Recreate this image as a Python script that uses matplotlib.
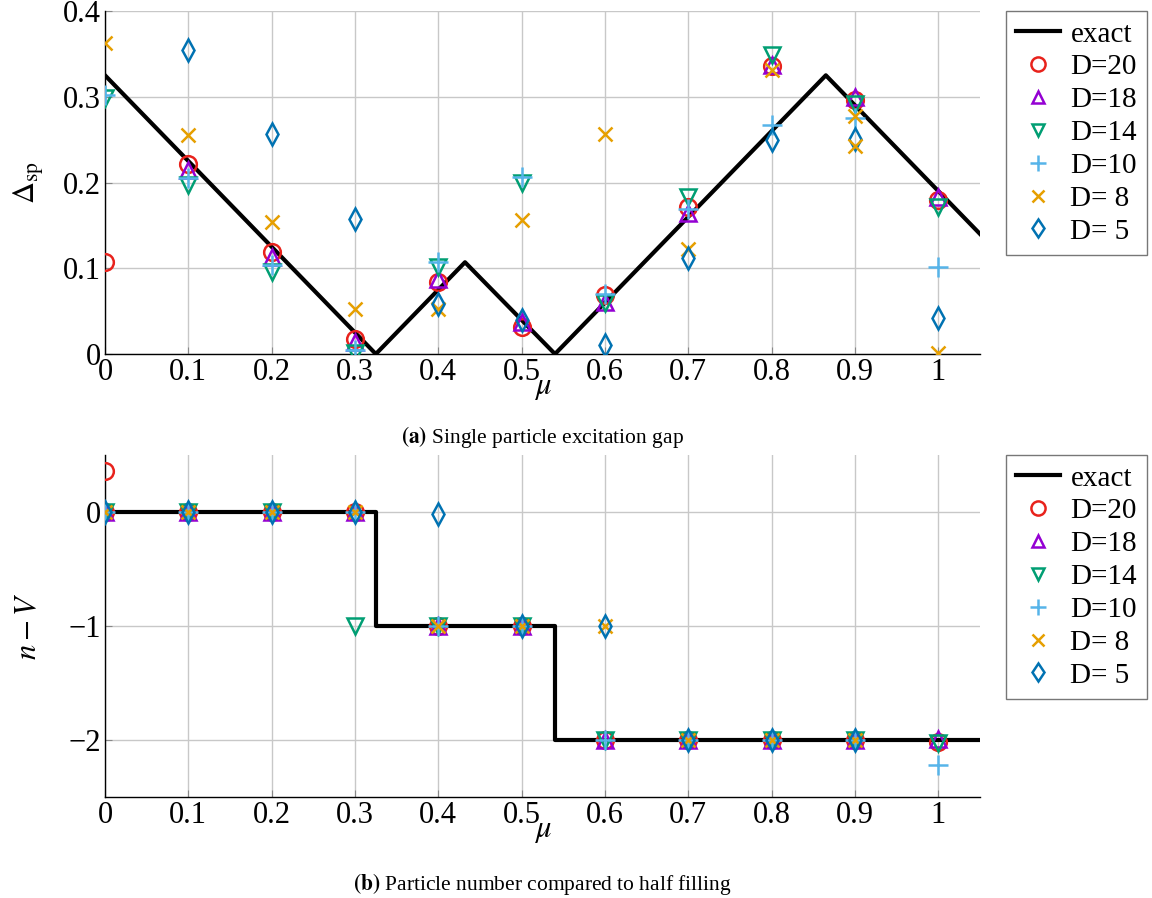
import numpy as np
import matplotlib
matplotlib.use("Agg")
import matplotlib.pyplot as plt

plt.rcParams['font.family'] = ['Liberation Serif', 'DejaVu Serif']
plt.rcParams['mathtext.fontset'] = 'stix'
plt.rcParams['axes.unicode_minus'] = True

mu = [0.0, 0.1, 0.2, 0.3, 0.4, 0.5, 0.6, 0.7, 0.8, 0.9, 1.0]
nan = np.nan

# exact curves
exact_gap_x = [0.0, 0.325, 0.432, 0.54, 0.865, 1.05]
exact_gap_y = [0.325, 0.0, 0.107, 0.0, 0.325, 0.14]
exact_n_x = [0.0, 0.325, 0.325, 0.54, 0.54, 1.05]
exact_n_y = [0.0, 0.0, -1.0, -1.0, -2.0, -2.0]

labels = ['D=20', 'D=18', 'D=14', 'D=10', 'D= 8', 'D= 5']
colors = ['#e8221c', '#9400d3', '#009e73', '#56b4e9', '#e69f00', '#0072b2']
markers = ['o', '^', 'v', '+', 'x', 'd']

# (a) single particle gap
gap_D20 = [0.107, 0.221, 0.119, 0.018, 0.084, 0.032, 0.069, 0.171, 0.336, 0.296, 0.180]
gap_D18 = [nan, 0.215, 0.113, 0.014, 0.088, 0.037, 0.061, 0.164, 0.337, 0.300, 0.183]
gap_D14 = [0.298, 0.197, 0.096, 0.001, 0.101, 0.200, 0.059, 0.183, 0.349, 0.292, 0.172]
gap_D10 = [0.302, 0.205, 0.104, 0.005, 0.107, 0.206, 0.070, 0.169, 0.267, 0.275, 0.102]
gap_D8 = [0.363, 0.255, 0.154, 0.053, 0.053, 0.156, 0.256, 0.122, 0.331, 0.277, 0.001]
gap_D5 = [nan, 0.355, 0.256, 0.157, 0.058, 0.040, 0.011, 0.112, 0.250, 0.251, 0.042]
gap_D8_extra_x = [0.9]
gap_D8_extra_y = [0.243]

# (b) particle number relative to half filling
n_D20 = [0.0, 0.0, 0.0, 0.0, -1.0, -1.0, -2.0, -2.0, -2.0, -2.0, -2.02]
n_D18 = [0.0, 0.0, 0.0, 0.0, -1.0, -1.0, -2.0, -2.0, -2.0, -2.0, -1.99]
n_D14 = [0.0, 0.0, 0.0, -1.0, -1.0, -1.0, -2.0, -2.0, -2.0, -2.0, -2.03]
n_D10 = [0.0, 0.0, 0.0, 0.0, -1.0, -1.0, -2.0, -2.0, -2.0, -2.0, -2.22]
n_D8 = [0.0, 0.0, 0.0, 0.0, -1.0, -1.0, -1.0, -2.0, -2.0, -2.0, nan]
n_D5 = [0.0, 0.0, 0.0, 0.0, -0.02, -1.0, -1.0, -2.0, -2.0, -2.0, nan]
n_D20_extra_x = [0.0]
n_D20_extra_y = [0.36]

gap_series = [gap_D20, gap_D18, gap_D14, gap_D10, gap_D8, gap_D5]
n_series = [n_D20, n_D18, n_D14, n_D10, n_D8, n_D5]

W, H = 1152, 898
fig = plt.figure(figsize=(W / 100, H / 100), dpi=100)

def px_axes(l, t, r, b):
    return fig.add_axes([l / W, 1 - b / H, (r - l) / W, (b - t) / H])

ax1 = px_axes(105, 11, 980, 354)
ax2 = px_axes(105, 455, 980, 797)

ms = {'o': 12, '^': 11, 'v': 11, '+': 14, 'x': 10, 'd': 11}

def style(ax):
    ax.grid(True, color='#c8c8c8', linewidth=1.0)
    ax.set_axisbelow(True)
    for s in ['top', 'right']:
        ax.spines[s].set_visible(False)
    for s in ['left', 'bottom']:
        ax.spines[s].set_color('black')
        ax.spines[s].set_linewidth(1.0)
    ax.tick_params(direction='in', length=5, color='#888888', labelsize=22, pad=3)
    ax.set_xlim(0, 1.05)
    ax.set_xticks([0, 0.1, 0.2, 0.3, 0.4, 0.5, 0.6, 0.7, 0.8, 0.9, 1.0])
    ax.set_xticklabels(['0', '0.1', '0.2', '0.3', '0.4', '0.5', '0.6', '0.7', '0.8', '0.9', '1'])
    ax.set_xlabel(r'$\mu$', fontsize=22, labelpad=-10)

def draw(ax, ex_x, ex_y, series, extras):
    ax.plot(ex_x, ex_y, color='black', linewidth=3, label='exact', zorder=2)
    for ys, lab, c, m in zip(series, labels, colors, markers):
        ax.plot(mu, ys, linestyle='none', marker=m, markersize=ms[m],
                markerfacecolor='none', markeredgecolor=c, markeredgewidth=1.8,
                label=lab, zorder=3)
    for (xs, ys, idx) in extras:
        m = markers[idx]
        ax.plot(xs, ys, linestyle='none', marker=m, markersize=ms[m],
                markerfacecolor='none', markeredgecolor=colors[idx], markeredgewidth=1.8,
                zorder=3)
    leg = ax.legend(loc='upper left', bbox_to_anchor=(1.03, 1.0), fontsize=21,
                    frameon=True, fancybox=False, edgecolor='#555555',
                    handlelength=1.5, handletextpad=0.35, borderpad=0.35,
                    labelspacing=0.22, borderaxespad=0.0, markerscale=0.85)
    leg.get_frame().set_linewidth(1.0)

style(ax1)
draw(ax1, exact_gap_x, exact_gap_y, gap_series, [(gap_D8_extra_x, gap_D8_extra_y, 4)])
ax1.set_ylim(0, 0.4)
ax1.set_yticks([0, 0.1, 0.2, 0.3, 0.4])
ax1.set_yticklabels(['0', '0.1', '0.2', '0.3', '0.4'])
ax1.set_ylabel(r'$\Delta_{\mathrm{sp}}$', fontsize=22, labelpad=12)

style(ax2)
draw(ax2, exact_n_x, exact_n_y, n_series, [(n_D20_extra_x, n_D20_extra_y, 0)])
ax2.set_ylim(-2.5, 0.5)
ax2.set_yticks([0, -1, -2])
ax2.set_yticklabels(['0', '\u22121', '\u22122'])
ax2.set_ylabel(r'$n-V$', fontsize=22, labelpad=18)

fig.text(542 / W, 1 - 437 / H, r'$\mathbf{(a)}$ Single particle excitation gap',
         ha='center', va='center', fontsize=15.5)
fig.text(542 / W, 1 - 884 / H, r'$\mathbf{(b)}$ Particle number compared to half filling',
         ha='center', va='center', fontsize=15.5)

fig.savefig('out.png', dpi=100)
